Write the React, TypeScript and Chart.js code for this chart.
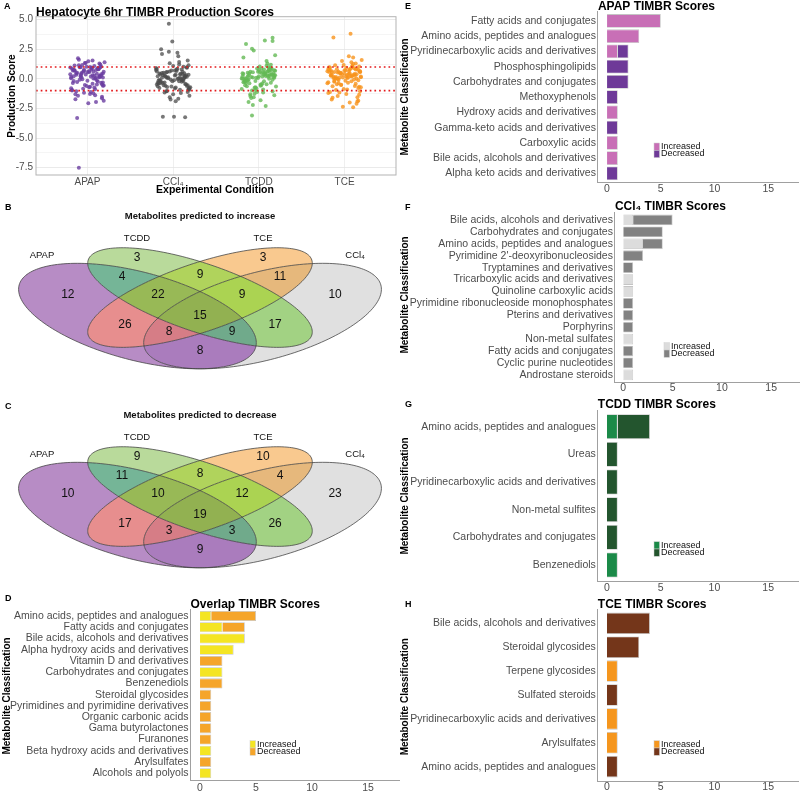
import React, { useEffect, useRef } from "react";
import { Chart, registerables } from "chart.js";

Chart.register(...registerables);

const FONT = "'Liberation Sans', Arial, Helvetica, sans-serif";
const TICK_COLOR = "#4d4d4d";
const AXIS_COLOR = "#a0a0a0";

// ---------------- Panel A: production scores ----------------
const CONDITIONS = ["APAP", "CCl₄", "TCDD", "TCE"];
const APAP_SCORES = [
  0.85, 0.42, -0.31, 1.12, 0.67, -0.88, 0.15, 0.93, -1.42, 0.38,
  1.35, -0.12, 0.71, 0.04, -0.56, 0.99, 1.48, -1.05, 0.27, 0.61,
  -0.74, 0.88, 0.19, -1.63, 0.52, 1.02, -0.22, 0.77, -0.41, 0.33,
  1.21, -1.18, 0.09, 0.95, -0.67, 0.46, 1.62, -0.03, 0.81, -1.31,
  0.58, 0.24, -0.95, 1.08, 0.36, -0.48, 0.72, -1.85, 0.13, 0.9,
  -0.27, 1.29, 0.55, -0.79, 0.02, 0.66, -1.52, 1.15, 0.31, -0.18,
  0.83, -0.6, 1.41, 0.47, -1.1, 0.2, 0.97, -0.36, 0.63, -2.05,
  1.74, 0.11, -0.84, 0.74, 0.39, -1.27, 0.87, -0.08, 1.05, -0.52,
  0.28, -1.72, 0.6, 1.18, -0.15, 0.44, -0.99, 0.8, -3.3, 0.17,
  1.33, -0.45, 0.69, -1.38, 0.5, 0.92, -0.7, 0.06, 1.56, -7.5,
  -0.33, 0.76, -1.95, 0.23, 1.0, -0.58, 0.35, -1.22, 0.98, 0.14,
];
const CCL4_SCORES = [
  0.12, -0.45, 0.63, -0.08, 0.91, -0.72, 0.34, -1.15, 0.05, 0.48,
  -0.27, 1.08, -0.61, 0.22, -0.93, 0.71, -0.14, 0.39, -1.42, 0.57,
  2.21, -0.36, 0.16, -0.82, 0.84, -0.02, 1.32, -0.53, 0.28, -1.68,
  0.45, -0.19, 3.15, -0.7, 0.09, 0.66, -1.05, 0.31, -0.4, 1.22,
  -0.11, 0.52, -0.88, 4.65, -0.25, 0.74, -1.9, 0.19, -0.58, 0.97,
  -0.06, 0.38, 2.5, -0.77, 0.13, -1.3, 0.59, -0.33, 0.86, -3.2,
  0.25, -0.64, 1.55, -0.16, 0.43, -1.02, 0.02, 0.7, -0.48, 1.9,
  -0.3, 0.18, -1.55, 0.8, -0.09, 0.35, -0.85, 2.1, -0.21, 0.55,
  -3.25, 0.07, -0.69, 1.14, -0.38, 0.29, -1.2, 0.62, -0.02, -0.55,
  0.94, -1.75, 0.41, -0.13, 1.42, -0.92, 0.21, -3.2, 0.5, -0.44,
  2.28, 0.11, -0.62, 0.78, -1.1, 0.32, -0.2, 1.02, -0.78, 0.04,
];
const TCDD_SCORES = [
  0.35, -0.22, 0.71, 0.08, -0.64, 0.52, 0.19, -0.98, 0.86, -0.1,
  0.44, 1.05, -0.37, 0.27, -1.26, 0.63, 0.02, -0.51, 0.9, 0.15,
  3.2, -0.8, 0.4, -0.15, 0.68, -1.55, 0.23, 0.97, -0.29, 0.56,
  -0.06, 1.2, -1.1, 0.33, 2.95, -0.45, 0.12, 0.79, -1.8, 0.48,
  -0.2, 0.6, 3.47, -0.7, 0.29, -0.02, 0.83, -1.38, 0.17, 0.54,
  2.55, -0.33, 0.38, -2.2, 0.72, 0.05, -0.58, 1.5, 0.21, -0.9,
  0.46, -1.05, 0.1, 0.66, -0.25, 3.25, 0.3, -1.62, 0.58, -0.12,
  0.92, -0.75, 0.25, 1.8, -0.4, 0.14, -1.95, 0.61, 0.0, -0.55,
  0.8, -3.1, 0.37, -0.18, 1.3, -0.85, 0.5, 0.09, -1.3, 2.4,
  0.26, -0.62, 0.75, -0.08, 0.42, -2.3, 0.88, 0.18, -0.35, 2.0,
  0.55, -1.15, 0.31, 0.69, -0.48, 0.04, 1.1, -0.95, 0.47, -1.45,
];
const TCE_SCORES = [
  0.42, -0.18, 0.85, 0.12, -0.66, 0.57, 1.1, -0.35, 0.26, 0.93,
  -1.2, 0.48, 0.05, 0.74, -0.52, 1.25, 0.31, -0.9, 0.62, 0.18,
  3.8, -1.45, 0.39, 0.8, -0.08, 0.55, -1.75, 0.21, 1.02, -0.28,
  0.67, 0.03, -0.77, 1.5, 0.36, -1.1, 0.88, 0.14, -0.45, 0.7,
  3.5, -2.1, 0.46, -0.2, 0.97, 0.09, -1.35, 0.58, 1.18, -0.6,
  0.27, 0.79, -0.02, -1.9, 0.51, 1.8, -0.38, 0.33, 0.65, -0.95,
  0.11, 1.3, -1.6, 0.44, -0.12, 0.76, 0.2, -2.35, 0.9, 0.37,
  -0.7, 0.6, 1.9, -0.25, 0.02, -1.28, 0.83, 0.29, -0.5, 1.05,
  0.16, -2.0, 0.71, 0.4, -0.85, 1.6, 0.07, -0.32, 0.53, -1.55,
  0.95, 0.24, -0.15, 1.15, -1.05, 0.49, -2.4, 0.64, 0.1, -0.42,
  0.82, -1.85, 0.35, 1.4, -0.62, 0.19, -1.15, 0.72, -0.05, 0.58,
];
// horizontal jitter offsets (position only, in category units)
const JITTER = [
  0.13, -0.07, 0.18, -0.15, 0.02, 0.09, -0.19, 0.05, -0.11, 0.16,
  -0.03, 0.11, -0.17, 0.07, 0.19, -0.09, 0.01, -0.13, 0.14, -0.05,
  0.08, -0.18, 0.04, 0.17, -0.12, -0.01, 0.12, -0.16, 0.06, -0.08,
  0.15, -0.04, 0.1, -0.2, 0.03, 0.18, -0.1, -0.06, 0.13, -0.14,
  0.0, 0.16, -0.18, 0.08, -0.02, 0.11, -0.15, 0.19, -0.07, 0.05,
  -0.12, 0.14, 0.02, -0.19, 0.09, -0.04, 0.17, -0.1, 0.06, -0.16,
  0.12, -0.01, 0.2, -0.13, 0.04, -0.08, 0.15, -0.17, 0.07, 0.01,
  -0.11, 0.18, -0.05, 0.1, -0.2, 0.03, 0.13, -0.09, 0.16, -0.03,
  0.08, -0.14, 0.19, -0.06, 0.0, 0.11, -0.18, 0.05, -0.12, 0.14,
  -0.02, 0.17, -0.15, 0.09, -0.07, 0.12, 0.02, -0.19, 0.06, -0.1,
  0.16, -0.04, 0.1, -0.16, 0.03, 0.18, -0.13, 0.07, -0.08, 0.14,
];
const SCORE_TICKS = [-7.5, -5, -2.5, 0, 2.5, 5];
const SCORE_MINOR_TICKS = [-6.25, -3.75, -1.25, 1.25, 3.75];
const THRESHOLDS = [1, -1];
const CONDITION_COLORS = [
  "rgba(106,61,160,0.8)",
  "rgba(75,75,75,0.75)",
  "rgba(100,185,85,0.8)",
  "rgba(247,148,29,0.8)",
];

// ---------------- Panels B/C: Venn diagrams ----------------
const VENN_SETS = ["APAP", "TCDD", "TCE", "CCl₄"];
// region membership bitmask: APAP=1, TCDD=2, TCE=4, CCl4=8
const VENN_REGION_MASKS = [1, 2, 4, 8, 3, 6, 12, 7, 14, 15, 5, 10, 13, 11, 9];
const INCREASE_COUNTS = [12, 3, 3, 10, 4, 9, 11, 22, 9, 15, 26, 17, 8, 9, 8];
const DECREASE_COUNTS = [10, 9, 10, 23, 11, 8, 4, 10, 12, 19, 17, 26, 3, 3, 9];
const VENN_REGION_COLORS = [
  "#b78cc5", "#b9da9b", "#f9c98f", "#e0e0e0", "#75b597", "#b0d35c", "#e6b87c",
  "#98b956", "#abd352", "#92b151", "#e78e8e", "#a2d283", "#d67d86", "#70aa8b", "#aa7cbd",
];
// layout (normalised diagram coordinates)
const VENN_ELLIPSES = [
  { cx: 0.35, cy: 0.47, a: 0.35, b: 0.2, rot: -45 },
  { cx: 0.5, cy: 0.57, a: 0.35, b: 0.15, rot: -45 },
  { cx: 0.5, cy: 0.57, a: 0.35, b: 0.15, rot: 45 },
  { cx: 0.65, cy: 0.47, a: 0.35, b: 0.2, rot: 45 },
];
const VENN_REGION_POS = [
  [0.183, 0.584], [0.349, 0.784], [0.651, 0.784], [0.824, 0.584], [0.313, 0.681],
  [0.5, 0.692], [0.692, 0.681], [0.399, 0.584], [0.601, 0.584], [0.5, 0.47],
  [0.32, 0.422], [0.68, 0.422], [0.426, 0.384], [0.577, 0.384], [0.5, 0.281],
];
const VENN_SET_POS = [[0.121, 0.8], [0.349, 0.892], [0.651, 0.892], [0.872, 0.8]];

// ---------------- Panels D-H: TIMBR score bars ----------------
const LEGEND_LABELS = ["Increased", "Decreased"];
const SCORE_AXIS_TICKS = [0, 5, 10, 15];

const OVERLAP_CLASSES = [
  "Amino acids, peptides and analogues", "Fatty acids and conjugates",
  "Bile acids, alcohols and derivatives", "Alpha hydroxy acids and derivatives",
  "Vitamin D and derivatives", "Carbohydrates and conjugates", "Benzenediols",
  "Steroidal glycosides", "Pyrimidines and pyrimidine derivatives", "Organic carbonic acids",
  "Gama butyrolactones", "Furanones", "Beta hydroxy acids and derivatives", "Arylsulfates",
  "Alcohols and polyols",
];
const OVERLAP_INCREASED = [1, 2, 4, 3, 0, 2, 0, 0, 0, 0, 0, 0, 1, 0, 1];
const OVERLAP_DECREASED = [4, 2, 0, 0, 2, 0, 2, 1, 1, 1, 1, 1, 0, 1, 0];

const APAP_CLASSES = [
  "Fatty acids and conjugates", "Amino acids, peptides and analogues",
  "Pyridinecarboxylic acids and derivatives", "Phosphosphingolipids",
  "Carbohydrates and conjugates", "Methoxyphenols", "Hydroxy acids and derivatives",
  "Gamma-keto acids and derivatives", "Carboxylic acids", "Bile acids, alcohols and derivatives",
  "Alpha keto acids and derivatives",
];
const APAP_INCREASED = [5, 3, 1, 0, 0, 0, 1, 0, 1, 1, 0];
const APAP_DECREASED = [0, 0, 1, 2, 2, 1, 0, 1, 0, 0, 1];

const CCL4_CLASSES = [
  "Bile acids, alcohols and derivatives", "Carbohydrates and conjugates",
  "Amino acids, peptides and analogues", "Pyrimidine 2'-deoxyribonucleosides",
  "Tryptamines and derivatives", "Tricarboxylic acids and derivatives",
  "Quinoline carboxylic acids", "Pyrimidine ribonucleoside monophosphates",
  "Pterins and derivatives", "Porphyrins", "Non-metal sulfates", "Fatty acids and conjugates",
  "Cyclic purine nucleotides", "Androstane steroids",
];
const CCL4_INCREASED = [1, 0, 2, 0, 0, 1, 1, 0, 0, 0, 1, 0, 0, 1];
const CCL4_DECREASED = [4, 4, 2, 2, 1, 0, 0, 1, 1, 1, 0, 1, 1, 0];

const TCDD_CLASSES = [
  "Amino acids, peptides and analogues", "Ureas", "Pyridinecarboxylic acids and derivatives",
  "Non-metal sulfites", "Carbohydrates and conjugates", "Benzenediols",
];
const TCDD_INCREASED = [1, 0, 0, 0, 0, 1];
const TCDD_DECREASED = [3, 1, 1, 1, 1, 0];

const TCE_CLASSES = [
  "Bile acids, alcohols and derivatives", "Steroidal glycosides", "Terpene glycosides",
  "Sulfated steroids", "Pyridinecarboxylic acids and derivatives", "Arylsulfates",
  "Amino acids, peptides and analogues",
];
const TCE_INCREASED = [0, 0, 1, 0, 1, 1, 0];
const TCE_DECREASED = [4, 3, 0, 1, 0, 0, 1];

// ---------------- helpers ----------------
type Box = { left: number; top: number; width: number; height: number };

function ChartCanvas({ box, make }: { box: Box; make: () => any }) {
  const ref = useRef<HTMLCanvasElement | null>(null);
  useEffect(() => {
    const chart = new Chart(ref.current as HTMLCanvasElement, make());
    return () => chart.destroy();
  }, []);
  return (
    <canvas
      ref={ref}
      width={box.width}
      height={box.height}
      style={{ position: "absolute", left: box.left, top: box.top, width: box.width, height: box.height }}
    />
  );
}

function drawText(ctx: any, s: string, x: number, y: number, font: string, color = "#000", align = "left") {
  ctx.font = font;
  ctx.fillStyle = color;
  ctx.textAlign = align;
  ctx.textBaseline = "middle";
  ctx.fillText(s, x, y);
}

function drawRotated(ctx: any, s: string, x: number, y: number, font: string) {
  ctx.save();
  ctx.translate(x, y);
  ctx.rotate(-Math.PI / 2);
  drawText(ctx, s, 0, 0, font, "#000", "center");
  ctx.restore();
}

// ---------------- Panel A ----------------
function scoresConfig() {
  const W = 400, H = 197;
  const plot = { l: 36, r: 396, t: 16.7, b: 175 };
  const groups = [APAP_SCORES, CCL4_SCORES, TCDD_SCORES, TCE_SCORES];
  const datasets = groups.map((vals, k) => ({
    label: CONDITIONS[k],
    data: vals.map((v, i) => ({ x: k + 1 + JITTER[(i + 29 * k) % JITTER.length], y: v })),
    backgroundColor: CONDITION_COLORS[k],
    borderWidth: 0,
    pointRadius: 2,
  }));
  const decor = {
    id: "scoresDecor",
    afterDatasetsDraw(chart: any) {
      const { ctx, chartArea: ca } = chart;
      const ys = chart.scales.y;
      ctx.save();
      ctx.strokeStyle = "#e41a1c";
      ctx.lineWidth = 1.7;
      ctx.setLineDash([1.7, 3]);
      THRESHOLDS.forEach((t) => {
        const y = ys.getPixelForValue(t);
        ctx.beginPath();
        ctx.moveTo(ca.left, y);
        ctx.lineTo(ca.right, y);
        ctx.stroke();
      });
      ctx.restore();
    },
    afterDraw(chart: any) {
      const { ctx, chartArea: ca } = chart;
      ctx.save();
      ctx.strokeStyle = "#b3b3b3";
      ctx.lineWidth = 1;
      ctx.strokeRect(ca.left, ca.top, ca.right - ca.left, ca.bottom - ca.top);
      drawText(ctx, "Hepatocyte 6hr TIMBR Production Scores", ca.left, 12.7, `bold 12px ${FONT}`);
      drawText(ctx, "A", 4, 7, `bold 9px ${FONT}`);
      drawText(ctx, "Experimental Condition", 215, 190.5, `bold 10.5px ${FONT}`, "#000", "center");
      drawRotated(ctx, "Production Score", 12, 96, `bold 10px ${FONT}`);
      ctx.restore();
    },
  };
  return {
    type: "scatter",
    data: { datasets },
    options: {
      animation: false,
      responsive: false,
      layout: { padding: { left: 0, top: plot.t, right: W - plot.r, bottom: 0 } },
      plugins: { legend: { display: false }, tooltip: { enabled: false } },
      scales: {
        x: {
          type: "linear",
          min: 0.4,
          max: 4.6,
          offset: false,
          afterBuildTicks: (ax: any) => {
            ax.ticks = CONDITIONS.map((_, i) => ({ value: i + 1 }));
          },
          afterFit: (ax: any) => {
            ax.height = H - plot.b;
          },
          ticks: {
            callback: (v: number) => CONDITIONS[v - 1] ?? "",
            font: { family: FONT, size: 10 },
            color: TICK_COLOR,
            padding: 1,
            maxRotation: 0,
            autoSkip: false,
          },
          grid: { color: "#ebebeb", lineWidth: 0.8, drawTicks: false },
          border: { display: false },
        },
        y: {
          type: "linear",
          min: -8.12,
          max: 5.25,
          offset: false,
          afterBuildTicks: (ax: any) => {
            ax.ticks = [...SCORE_TICKS, ...SCORE_MINOR_TICKS].sort((a, b) => a - b).map((v) => ({ value: v }));
          },
          afterFit: (ax: any) => {
            ax.width = plot.l;
          },
          ticks: {
            callback: (v: number) => (SCORE_TICKS.includes(v) ? v.toFixed(1) : ""),
            font: { family: FONT, size: 10 },
            color: TICK_COLOR,
            padding: 3,
            autoSkip: false,
          },
          grid: {
            color: (c: any) => (c.tick && SCORE_TICKS.includes(c.tick.value) ? "#e4e4e4" : "#f2f2f2"),
            lineWidth: 0.8,
            drawTicks: false,
          },
          border: { display: false },
        },
      },
    },
    plugins: [decor],
  };
}

// ---------------- Panels B/C ----------------
function vennConfig(counts: number[], title: string, letter: string) {
  const N = 180;
  const decor = {
    id: "vennDecor",
    beforeDatasetsDraw(chart: any) {
      const ctx = chart.ctx;
      const xs = chart.scales.x;
      const ys = chart.scales.y;
      const paths = VENN_ELLIPSES.map((e) => {
        const p = new Path2D();
        const th = (e.rot * Math.PI) / 180;
        for (let k = 0; k <= N; k++) {
          const t = (2 * Math.PI * k) / N;
          const u = e.a * Math.cos(t);
          const w = e.b * Math.sin(t);
          const px = xs.getPixelForValue(e.cx + u * Math.cos(th) - w * Math.sin(th));
          const py = ys.getPixelForValue(e.cy + u * Math.sin(th) + w * Math.cos(th));
          if (k === 0) p.moveTo(px, py);
          else p.lineTo(px, py);
        }
        p.closePath();
        return p;
      });
      const W = chart.width, H = chart.height;
      VENN_REGION_MASKS.forEach((mask, r) => {
        ctx.save();
        for (let i = 0; i < 4; i++) {
          if (mask & (1 << i)) {
            ctx.clip(paths[i]);
          } else {
            const q = new Path2D();
            q.rect(-20, -20, W + 40, H + 40);
            q.addPath(paths[i]);
            ctx.clip(q, "evenodd");
          }
        }
        ctx.fillStyle = VENN_REGION_COLORS[r];
        ctx.fillRect(0, 0, W, H);
        ctx.restore();
      });
      ctx.save();
      ctx.strokeStyle = "#3c3c3c";
      ctx.lineWidth = 0.75;
      paths.forEach((p) => ctx.stroke(p));
      ctx.restore();
    },
    afterDatasetsDraw(chart: any) {
      const ctx = chart.ctx;
      ctx.save();
      const regions = chart.getDatasetMeta(0).data;
      regions.forEach((el: any, i: number) => {
        drawText(ctx, String(counts[i]), el.x, el.y, `12px ${FONT}`, "#111", "center");
      });
      const sets = chart.getDatasetMeta(1).data;
      sets.forEach((el: any, i: number) => {
        drawText(ctx, VENN_SETS[i], el.x, el.y, `9.5px ${FONT}`, "#111", "center");
      });
      drawText(ctx, title, 200, 21, `bold 9.5px ${FONT}`, "#111", "center");
      drawText(ctx, letter, 5, 13, `bold 9px ${FONT}`);
      ctx.restore();
    },
  };
  return {
    type: "scatter",
    data: {
      datasets: [
        { data: VENN_REGION_POS.map(([x, y]) => ({ x, y })), pointRadius: 0 },
        { data: VENN_SET_POS.map(([x, y]) => ({ x, y })), pointRadius: 0 },
      ],
    },
    options: {
      animation: false,
      responsive: false,
      layout: { padding: 0 },
      plugins: { legend: { display: false }, tooltip: { enabled: false } },
      scales: {
        x: { type: "linear", min: 0.0204, max: 0.9796, display: false },
        y: { type: "linear", min: 0.0703, max: 1.1243, display: false },
      },
    },
    plugins: [decor],
  };
}

// ---------------- Panels D-H ----------------
type BarPanelProps = {
  box: Box;
  plot: { l: number; r: number; t: number; b: number };
  classes: string[];
  inc: number[];
  dec: number[];
  colors: [string, string];
  title: string;
  titleY: number;
  letter: string;
  letterY: number;
  legend: { x: number; y: number };
  yTitle: { x: number; y: number };
  xPad: number;
};

function barConfig(p: BarPanelProps) {
  const n = p.classes.length;
  const toData = (vals: number[]) => vals.map((v, i) => ({ x: v, y: i })).filter((d) => d.x > 0);
  const common = {
    borderColor: "#c4c4c4",
    borderWidth: 0.8,
    barPercentage: 0.9,
    categoryPercentage: 1,
    stack: "s",
  };
  const decor = {
    id: "barDecor",
    afterDraw(chart: any) {
      const ctx = chart.ctx;
      ctx.save();
      drawText(ctx, p.title, chart.chartArea.left, p.titleY, `bold 12px ${FONT}`);
      drawText(ctx, p.letter, 5, p.letterY, `bold 9px ${FONT}`);
      drawRotated(ctx, "Metabolite Classification", p.yTitle.x, p.yTitle.y, `bold 10px ${FONT}`);
      const kh = 7.3, kw = 5.5;
      LEGEND_LABELS.forEach((lab, i) => {
        const y = p.legend.y + i * kh;
        ctx.fillStyle = p.colors[i];
        ctx.fillRect(p.legend.x, y, kw, kh);
        ctx.strokeStyle = "#d0d0d0";
        ctx.lineWidth = 0.5;
        ctx.strokeRect(p.legend.x, y, kw, kh);
        drawText(ctx, lab, p.legend.x + kw + 1.5, y + kh / 2, `9px ${FONT}`, "#111");
      });
      ctx.restore();
    },
  };
  return {
    type: "bar",
    data: {
      datasets: [
        { label: LEGEND_LABELS[0], data: toData(p.inc), backgroundColor: p.colors[0], ...common },
        { label: LEGEND_LABELS[1], data: toData(p.dec), backgroundColor: p.colors[1], ...common },
      ],
    },
    options: {
      animation: false,
      responsive: false,
      indexAxis: "y",
      layout: { padding: { left: 0, top: p.plot.t, right: p.box.width - p.plot.r, bottom: 0 } },
      plugins: { legend: { display: false }, tooltip: { enabled: false } },
      scales: {
        x: {
          type: "linear",
          min: -0.85,
          max: 17.85,
          offset: false,
          stacked: true,
          afterBuildTicks: (ax: any) => {
            ax.ticks = SCORE_AXIS_TICKS.map((v) => ({ value: v }));
          },
          afterFit: (ax: any) => {
            ax.height = p.box.height - p.plot.b;
          },
          ticks: {
            font: { family: FONT, size: 10.5 },
            color: TICK_COLOR,
            padding: p.xPad,
            maxRotation: 0,
            autoSkip: false,
          },
          grid: { display: false, drawTicks: false },
          border: { display: true, color: AXIS_COLOR, width: 1 },
        },
        y: {
          type: "linear",
          reverse: true,
          min: -0.6,
          max: n - 0.4,
          offset: false,
          stacked: true,
          afterBuildTicks: (ax: any) => {
            ax.ticks = p.classes.map((_, i) => ({ value: i }));
          },
          afterFit: (ax: any) => {
            ax.width = p.plot.l;
          },
          ticks: {
            callback: (v: number) => p.classes[v] ?? "",
            font: { family: FONT, size: 10.5 },
            color: TICK_COLOR,
            padding: 2,
            autoSkip: false,
          },
          grid: { display: false, drawTicks: false, offset: false },
          border: { display: true, color: AXIS_COLOR, width: 1 },
        },
      },
    },
    plugins: [decor],
  };
}

const BAR_PANELS: BarPanelProps[] = [
  {
    box: { left: 0, top: 588, width: 400, height: 203 },
    plot: { l: 190.5, r: 400, t: 21.3, b: 192 },
    classes: OVERLAP_CLASSES, inc: OVERLAP_INCREASED, dec: OVERLAP_DECREASED,
    colors: ["#f4e523", "#f5a52a"],
    title: "Overlap TIMBR Scores", titleY: 16.3, letter: "D", letterY: 11,
    legend: { x: 250, y: 152.7 }, yTitle: { x: 7, y: 108 }, xPad: 2,
  },
  {
    box: { left: 400, top: 0, width: 400, height: 197 },
    plot: { l: 197.9, r: 398.9, t: 11.8, b: 182.5 },
    classes: APAP_CLASSES, inc: APAP_INCREASED, dec: APAP_DECREASED,
    colors: ["#c86fb6", "#6e3a98"],
    title: "APAP TIMBR Scores", titleY: 7, letter: "E", letterY: 7,
    legend: { x: 254, y: 143 }, yTitle: { x: 5, y: 97 }, xPad: 0,
  },
  {
    box: { left: 400, top: 195, width: 400, height: 200 },
    plot: { l: 214.9, r: 399.3, t: 17.8, b: 187 },
    classes: CCL4_CLASSES, inc: CCL4_INCREASED, dec: CCL4_DECREASED,
    colors: ["#dcdcdc", "#828282"],
    title: "CCl₄ TIMBR Scores", titleY: 11.7, letter: "F", letterY: 13,
    legend: { x: 264, y: 147.7 }, yTitle: { x: 5, y: 100 }, xPad: 0,
  },
  {
    box: { left: 400, top: 390, width: 400, height: 205 },
    plot: { l: 197.8, r: 398.8, t: 20.1, b: 191.6 },
    classes: TCDD_CLASSES, inc: TCDD_INCREASED, dec: TCDD_DECREASED,
    colors: ["#1b8a48", "#23552e"],
    title: "TCDD TIMBR Scores", titleY: 15, letter: "G", letterY: 15,
    legend: { x: 254, y: 151.7 }, yTitle: { x: 5, y: 106 }, xPad: 0,
  },
  {
    box: { left: 400, top: 590, width: 400, height: 201 },
    plot: { l: 197.8, r: 398.8, t: 19, b: 191 },
    classes: TCE_CLASSES, inc: TCE_INCREASED, dec: TCE_DECREASED,
    colors: ["#f5961e", "#74361a"],
    title: "TCE TIMBR Scores", titleY: 15, letter: "H", letterY: 15,
    legend: { x: 254, y: 150.7 }, yTitle: { x: 5, y: 106.7 }, xPad: 0,
  },
];

export default function App() {
  return (
    <div style={{ position: "absolute", left: 0, top: 0, width: 800, height: 791, background: "#fff", overflow: "hidden" }}>
      <ChartCanvas box={{ left: 0, top: 0, width: 400, height: 197 }} make={scoresConfig} />
      <ChartCanvas
        box={{ left: 0, top: 195, width: 400, height: 195 }}
        make={() => vennConfig(INCREASE_COUNTS, "Metabolites predicted to increase", "B")}
      />
      <ChartCanvas
        box={{ left: 0, top: 394, width: 400, height: 195 }}
        make={() => vennConfig(DECREASE_COUNTS, "Metabolites predicted to decrease", "C")}
      />
      {BAR_PANELS.map((p) => (
        <ChartCanvas key={p.letter} box={p.box} make={() => barConfig(p)} />
      ))}
    </div>
  );
}
